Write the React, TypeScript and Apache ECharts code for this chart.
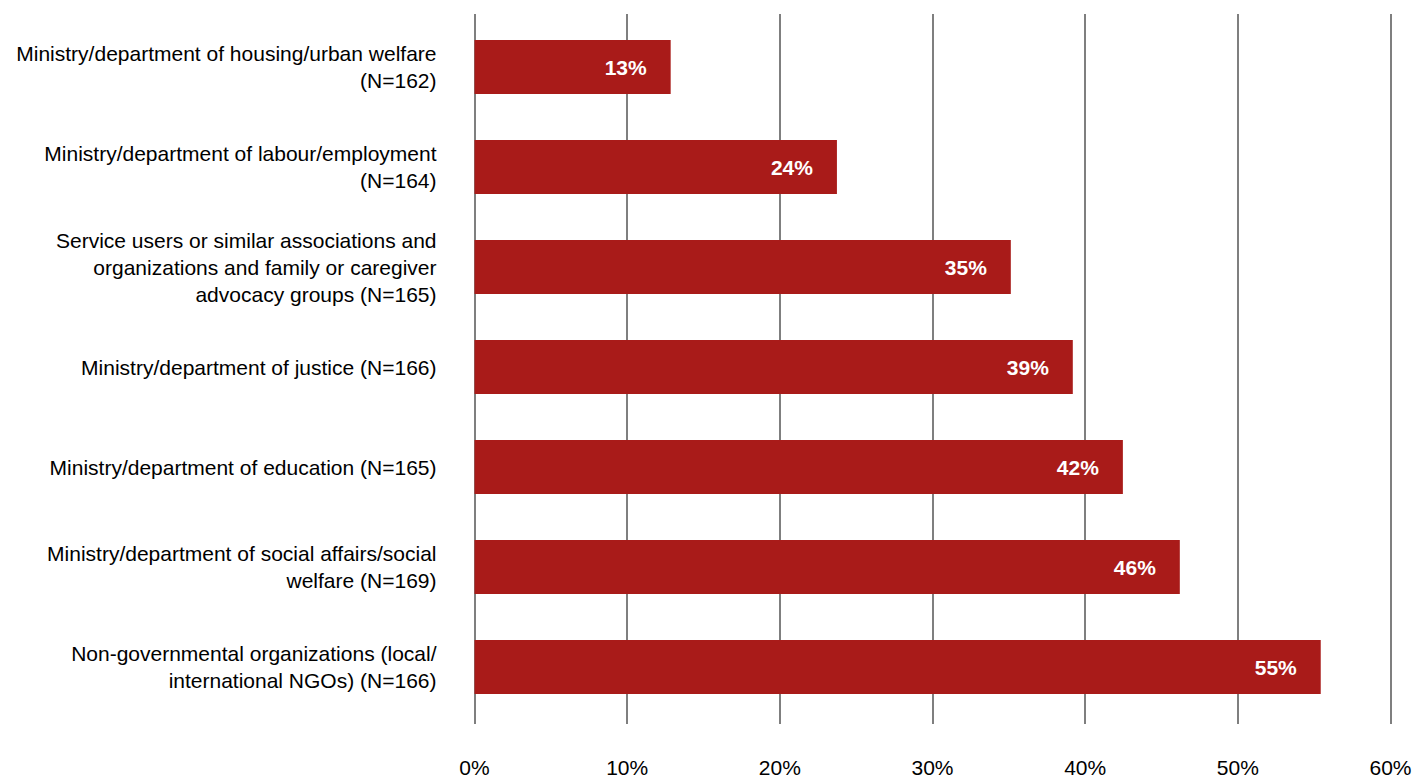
import React, { useEffect, useRef } from "react";
import * as echarts from "echarts";

const categories = [
  "Ministry/department of housing/urban welfare\n(N=162)",
  "Ministry/department of labour/employment\n(N=164)",
  "Service users or similar associations and\norganizations and family or caregiver\nadvocacy groups (N=165)",
  "Ministry/department of justice (N=166)",
  "Ministry/department of education (N=165)",
  "Ministry/department of social affairs/social\nwelfare (N=169)",
  "Non-governmental organizations (local/\ninternational NGOs) (N=166)",
];
const values = [12.85, 23.74, 35.13, 39.19, 42.47, 46.2, 55.43];
const valueLabels = ["13%", "24%", "35%", "39%", "42%", "46%", "55%"];
const axisMin = 0;
const axisMax = 60;
const axisStep = 10;

const FONT = "'Liberation Sans', Arial, sans-serif";

export default function App() {
  const ref = useRef<HTMLDivElement>(null);
  useEffect(() => {
    if (!ref.current) return;
    const chart = echarts.init(ref.current, null, { renderer: "svg" });
    chart.setOption({
      animation: false,
      backgroundColor: "#ffffff",
      grid: [
        { left: 474.5, right: 26.5, top: 14, height: 712, containLabel: false },
        { left: 474.5, right: 26.5, top: 17, height: 700, containLabel: false },
      ],
      xAxis: [
        {
          type: "value",
          gridIndex: 0,
          min: axisMin,
          max: axisMax,
          interval: axisStep,
          axisLine: { show: false },
          axisTick: { show: false },
          splitLine: { show: true, lineStyle: { color: "#7f7f7f", width: 2 } },
          axisLabel: {
            formatter: (v: number) => `${v}%`,
            fontFamily: FONT,
            fontSize: 21,
            color: "#000",
            margin: 33,
          },
        },
        {
          type: "value",
          gridIndex: 1,
          min: axisMin,
          max: axisMax,
          interval: axisStep,
          show: false,
          splitLine: { show: false },
        },
      ],
      yAxis: [
        {
          type: "category",
          gridIndex: 0,
          data: categories,
          inverse: true,
          axisLine: { show: false },
          axisTick: { show: false },
          splitLine: { show: false },
          axisLabel: { show: false },
        },
        {
          type: "category",
          gridIndex: 1,
          data: categories,
          inverse: true,
          axisLine: { show: false },
          axisTick: { show: false },
          splitLine: { show: false },
          axisLabel: {
            fontFamily: FONT,
            fontSize: 21,
            color: "#000",
            lineHeight: 27,
            align: "right",
            margin: 38,
          },
        },
      ],
      series: [
        {
          type: "bar",
          xAxisIndex: 1,
          yAxisIndex: 1,
          data: values,
          barWidth: 54,
          itemStyle: { color: "#a91b19" },
          label: {
            show: true,
            position: "insideRight",
            distance: 24,
            formatter: (p: any) => valueLabels[p.dataIndex],
            color: "#fff",
            fontWeight: "bold",
            fontFamily: FONT,
            fontSize: 21,
          },
        },
      ],
    });
    return () => chart.dispose();
  }, []);
  return (
    <div
      ref={ref}
      style={{ position: "fixed", left: 0, top: 0, width: 1417, height: 778 }}
    />
  );
}
